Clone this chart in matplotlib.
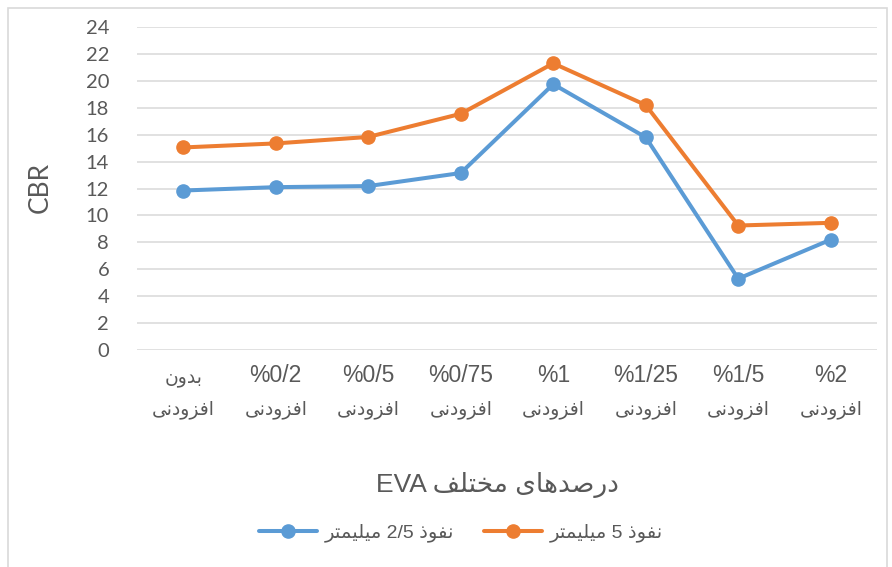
import matplotlib
matplotlib.use('Agg')
import matplotlib.pyplot as plt
from matplotlib.patches import Rectangle

categories = ['بدون\nافزودنی', '%0/2\nافزودنی', '%0/5\nافزودنی', '%0/75\nافزودنی',
              '%1\nافزودنی', '%1/25\nافزودنی', '%1/5\nافزودنی', '%2\nافزودنی']
pen_25 = [11.85, 12.1, 12.18, 13.15, 19.75, 15.8, 5.3, 8.2]
pen_5 = [15.05, 15.35, 15.83, 17.55, 21.3, 18.2, 9.25, 9.45]
series_names = ['نفوذ 2/5 میلیمتر', 'نفوذ 5 میلیمتر']
x_title = 'درصدهای مختلف EVA'
y_title = 'CBR'

# (isolated, final, initial, medial) presentation forms
FORMS = {
    'ا': ('\uFE8D', '\uFE8E', None, None),
    'ب': ('\uFE8F', '\uFE90', '\uFE91', '\uFE92'),
    'ت': ('\uFE95', '\uFE96', '\uFE97', '\uFE98'),
    'خ': ('\uFEA5', '\uFEA6', '\uFEA7', '\uFEA8'),
    'د': ('\uFEA9', '\uFEAA', None, None),
    'ذ': ('\uFEAB', '\uFEAC', None, None),
    'ر': ('\uFEAD', '\uFEAE', None, None),
    'ز': ('\uFEAF', '\uFEB0', None, None),
    'ص': ('\uFEB9', '\uFEBA', '\uFEBB', '\uFEBC'),
    'ف': ('\uFED1', '\uFED2', '\uFED3', '\uFED4'),
    'ل': ('\uFEDD', '\uFEDE', '\uFEDF', '\uFEE0'),
    'م': ('\uFEE1', '\uFEE2', '\uFEE3', '\uFEE4'),
    'ن': ('\uFEE5', '\uFEE6', '\uFEE7', '\uFEE8'),
    'ه': ('\uFEE9', '\uFEEA', '\uFEEB', '\uFEEC'),
    'و': ('\uFEED', '\uFEEE', None, None),
    'ی': ('\uFEEF', '\uFEF0', '\uFEF3', '\uFEF4'),
}


def shape_word(w):
    out = []
    for i, ch in enumerate(w):
        if ch not in FORMS:
            out.append(ch)
            continue
        prev = w[i - 1] if i > 0 else None
        nxt = w[i + 1] if i + 1 < len(w) else None
        join_prev = prev in FORMS and FORMS[prev][2] is not None
        join_next = nxt in FORMS and FORMS[ch][2] is not None
        iso, fin, ini, med = FORMS[ch]
        if join_prev and join_next:
            out.append(med)
        elif join_prev:
            out.append(fin)
        elif join_next:
            out.append(ini)
        else:
            out.append(iso)
    return ''.join(reversed(out))


def is_arabic(s):
    return any(c in FORMS for c in s)


def rtl(text):
    lines = []
    for line in text.split('\n'):
        words = line.split(' ')
        vis = [shape_word(w) if is_arabic(w) else w for w in reversed(words)]
        lines.append(' '.join(vis))
    return '\n'.join(lines)


FONT = ['Liberation Sans', 'DejaVu Sans']
NUMFONT = ['Lato', 'DejaVu Sans']
GREY = '#595959'
BLUE = '#5B9BD5'
ORANGE = '#ED7D31'

fig = plt.figure(figsize=(8.92, 5.67), dpi=100)
ax = fig.add_axes([137 / 892, 217 / 567, 740 / 892, 323 / 567])

x = list(range(len(categories)))
ax.plot(x, pen_25, color=BLUE, lw=2.9, marker='o', ms=9.5, solid_capstyle='round',
        label=rtl(series_names[0]), zorder=3)
ax.plot(x, pen_5, color=ORANGE, lw=2.9, marker='o', ms=9.5, solid_capstyle='round',
        label=rtl(series_names[1]), zorder=3)

ax.set_xlim(-0.5, len(categories) - 0.5)
ax.set_ylim(0, 24)
ax.set_yticks(range(0, 25, 2))
ax.grid(axis='y', color='#D9D9D9', lw=1.1)
ax.set_axisbelow(True)
for s in ax.spines.values():
    s.set_visible(False)
ax.tick_params(length=0)
ax.tick_params(axis='y', pad=20, labelsize=14.5, labelcolor=GREY)
for t in ax.get_yticklabels():
    t.set_family(NUMFONT)

# two-line category labels: first line (percent) larger than the Arabic second line
ax.set_xticks(x)
ax.set_xticklabels([])
trans = ax.get_xaxis_transform()
for i, c in enumerate(categories):
    top, bottom = c.split('\n')
    ax.text(i, -32 / 323, rtl(top), transform=trans, ha='center', va='baseline',
            family=FONT, fontsize=13.5 if is_arabic(top) else 16.5, color=GREY)
    ax.text(i, -64 / 323, rtl(bottom), transform=trans, ha='center', va='baseline',
            family=FONT, fontsize=13.5, color=GREY)

fig.text(40 / 892, 1 - 187 / 567, y_title, rotation=90, ha='center', va='center',
         family=NUMFONT, fontsize=19, color=GREY)
fig.text(497 / 892, 1 - 485 / 567, rtl(x_title), ha='center', va='center',
         family=FONT, fontsize=19, color=GREY)

leg = fig.legend(loc='center', bbox_to_anchor=(461 / 892, 1 - 533 / 567), ncol=2,
                 frameon=False, handlelength=3.0, columnspacing=1.5, handletextpad=0.4,
                 prop={'family': FONT, 'size': 14})
for t in leg.get_texts():
    t.set_color(GREY)

fig.patches.append(Rectangle((8 / 892, -0.01), 879 / 892, 0.996, transform=fig.transFigure,
                             fill=False, edgecolor='#D9D9D9', lw=1.2))

fig.savefig('out.png', dpi=100)
